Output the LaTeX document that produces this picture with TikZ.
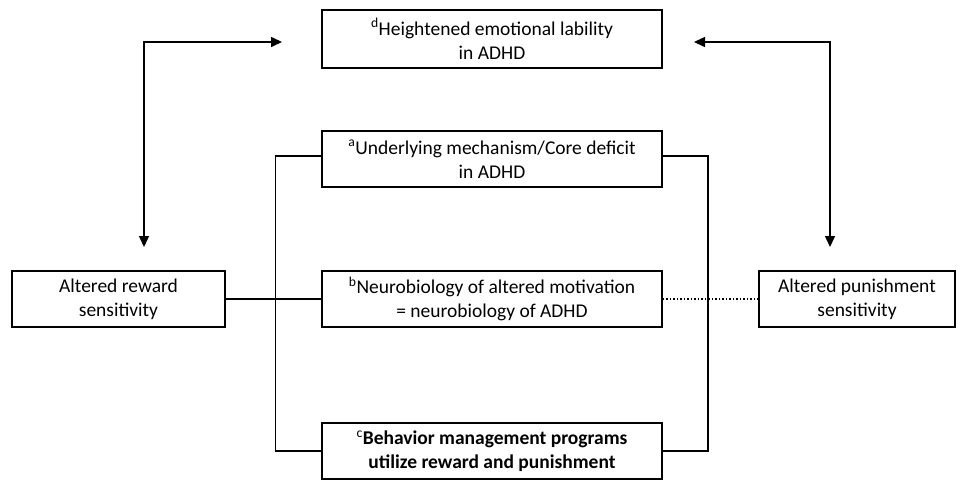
\documentclass[tikz,border=0pt]{standalone}
\usepackage{fontspec}
\setmainfont{Carlito}
\usetikzlibrary{arrows.meta}

\begin{document}
\begin{tikzpicture}[x=1pt, y=-1pt,
	box/.style={draw, line width=1.5pt, minimum height=56pt, align=center,
		inner sep=2pt, font=\fontsize{19.5}{24}\selectfont},
	link/.style={line width=1.5pt},
	twotip/.style={{Triangle[length=11pt,width=10pt]}-{Triangle[length=11pt,width=10pt]}}]

\useasboundingbox (0,0) rectangle (960,480);

\node[box, minimum width=340pt, minimum height=58pt] (lability) at (492,39)
	{\textsuperscript{d}Heightened emotional lability\\in ADHD};
\node[box, minimum width=340pt] (core) at (492,159)
	{\textsuperscript{a}Underlying mechanism/Core deficit\\in ADHD};
\node[box, minimum width=340pt] (neuro) at (492,299)
	{\textsuperscript{b}Neurobiology of altered motivation\\= neurobiology of ADHD};
\node[box, minimum width=340pt, font=\fontsize{19.5}{24}\selectfont\bfseries] (behav) at (492,451)
	{\textsuperscript{\mdseries c}Behavior management programs\\utilize reward and punishment};
\node[box, minimum width=213pt] (reward) at (118.5,299)
	{Altered reward\\sensitivity};
\node[box, minimum width=196pt] (punish) at (857,299)
	{Altered punishment\\sensitivity};

\coordinate (ltop) at (282,42);
\coordinate (lbot) at (144,247);
\coordinate (rtop) at (694,42);
\coordinate (rbot) at (830,247);

%arrows to lability
\draw[link, twotip] (lbot) |- (ltop);
\draw[link, twotip] (rtop) -| (rbot);

%brackets
\draw[link] ([yshift=3pt]core.west) -- ++(-46,0) |- (behav.west);
\draw[link] ([yshift=3pt]core.east) -- ++(45,0) |- (behav.east);

\draw[link] (reward) -- (neuro);
\draw[link, dotted] (neuro) -- (punish);

\end{tikzpicture}
\end{document}
